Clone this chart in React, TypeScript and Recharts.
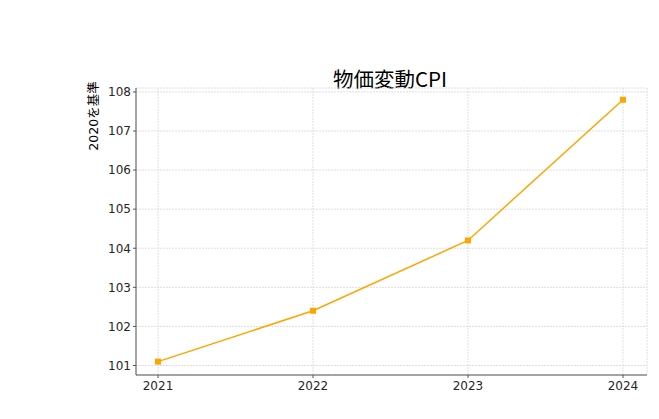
import { CartesianGrid, Label, Line, LineChart, XAxis, YAxis } from "recharts";

const years = [2021, 2022, 2023, 2024];
const cpiValues = [101.1, 102.4, 104.2, 107.8];
const yTicks = [101, 102, 103, 104, 105, 106, 107, 108];

const data = years.map((year, i) => ({ year, cpi: cpiValues[i] }));

const accent = "#ffa500";
const axisColor = "#555555";
const tickFont = { fontSize: 12, fill: "#262626", fontFamily: "'DejaVu Sans', sans-serif" };

function SquareDot(props: { cx?: number; cy?: number }) {
  const { cx, cy } = props;
  if (cx == null || cy == null) return null;
  return <rect x={cx - 3} y={cy - 3} width={6} height={6} fill={accent} />;
}

function YTitle() {
  return (
    <text
      x={98}
      y={116}
      transform="rotate(-90 98 116)"
      textAnchor="middle"
      fontSize={12.5}
      fill="#000"
      fontFamily="'DejaVu Sans', 'Noto Sans CJK JP', sans-serif"
    >
      2020を基準
    </text>
  );
}

export default function App() {
  return (
    <div style={{ position: "absolute", left: 0, top: 0, width: 659, height: 419, background: "#fff" }}>
      <div
        style={{
          position: "absolute",
          left: 290,
          width: 200,
          top: 64,
          textAlign: "center",
          fontSize: 20.5,
          lineHeight: "28px",
          fontFamily: "'Noto Sans CJK JP', sans-serif",
          fontWeight: 400,
          color: "#000",
        }}
      >
        物価変動CPI
      </div>
      <LineChart
        width={659}
        height={419}
        data={data}
        margin={{ top: 88, right: 12, bottom: 14, left: 0 }}
      >
        <CartesianGrid stroke="#d6d6d6" strokeDasharray="2 1" strokeWidth={0.8} />
        <XAxis
          dataKey="year"
          type="number"
          domain={[2020.858, 2024.155]}
          ticks={years}
          height={30}
          tick={tickFont}
          tickSize={3}
          tickMargin={3}
          stroke={axisColor}
          allowDataOverflow
        />
        <YAxis
          type="number"
          domain={[100.757, 108.1]}
          ticks={yTicks}
          width={136}
          tick={tickFont}
          tickSize={3}
          tickMargin={2}
          stroke={axisColor}
          allowDataOverflow
        >
          <Label content={<YTitle />} />
        </YAxis>
        <Line
          dataKey="cpi"
          type="linear"
          stroke={accent}
          strokeWidth={1.5}
          dot={<SquareDot />}
          activeDot={false}
          isAnimationActive={false}
        />
      </LineChart>
    </div>
  );
}
